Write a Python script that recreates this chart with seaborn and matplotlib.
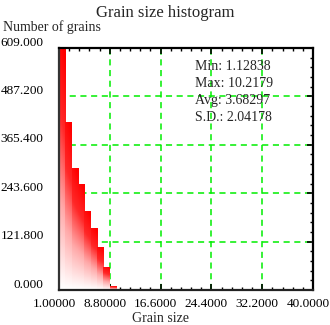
import numpy as np
import pandas as pd
import seaborn as sns
import matplotlib
matplotlib.use("Agg")
import matplotlib.pyplot as plt
from matplotlib.colors import LinearSegmentedColormap
from matplotlib.ticker import FixedLocator, AutoMinorLocator, FuncFormatter
from matplotlib.transforms import ScaledTranslation

# ---- data ----
bin_start = 1.0
bin_width = 0.975
counts = [609, 424, 308, 266, 200, 155, 108, 58, 10, 3]
x_ticks = [1.0, 8.8, 16.6, 24.4, 32.2, 40.0]
y_ticks = [0.0, 121.8, 243.6, 365.4, 487.2, 609.0]
stats_labels = ["Min", "Max", "Avg", "S.D."]
stats_values = ["1.12838", "10.2179", "3.68297", "2.04178"]
title = "Grain size histogram"
xlabel = "Grain size"
ylabel = "Number of grains"

edges = [bin_start + bin_width * i for i in range(len(counts) + 1)]
centers = [(edges[i] + edges[i + 1]) / 2 for i in range(len(counts))]
df = pd.DataFrame({"size": centers, "count": counts})

sns.set_style("white")
plt.rcParams["font.family"] = ["Liberation Serif", "DejaVu Serif"]
plt.rcParams["font.size"] = 9.5

fig = plt.figure(figsize=(3.30, 3.25), dpi=100)
ax = fig.add_axes([59 / 330, 35 / 325, 254 / 330, 242 / 325])

sns.histplot(data=df, x="size", weights="count", bins=edges, ax=ax,
             stat="count", element="bars", fill=True, linewidth=0,
             color="red", alpha=1, zorder=2)

cmap = LinearSegmentedColormap.from_list("rw", ["#ffffff", "#ffa8a8", "#ff2828", "#ff0000"], N=256)
for p in list(ax.patches):
    x0, y0 = p.get_x(), p.get_y()
    w, h = p.get_width(), p.get_height()
    if h <= 0:
        continue
    p.set_facecolor("none")
    v = np.linspace(0, 1, 64)[:, None]
    hz = np.linspace(0.85, 1.0, 16)[None, :]
    grad = np.clip(v * hz * 1.05, 0, 1)
    im = ax.imshow(grad, extent=[x0, x0 + w, y0, y0 + h], origin="lower",
                   cmap=cmap, vmin=0, vmax=1, aspect="auto", zorder=2,
                   interpolation="bilinear")
    im.set_clip_path(p)

ax.set_xlim(x_ticks[0], x_ticks[-1])
ax.set_ylim(y_ticks[0], y_ticks[-1])
ax.set_xlabel("")
ax.set_ylabel("")

ax.xaxis.set_major_locator(FixedLocator(x_ticks))
ax.yaxis.set_major_locator(FixedLocator(y_ticks))
ax.xaxis.set_minor_locator(AutoMinorLocator(5))
ax.yaxis.set_minor_locator(AutoMinorLocator(5))
ax.xaxis.set_major_formatter(FuncFormatter(lambda v, pos: "{:#.6g}".format(v)))
ax.yaxis.set_major_formatter(FuncFormatter(lambda v, pos: "{:.3f}".format(v)))

ax.grid(True, which="major", color="#00ee00", linestyle=(0, (4, 3)), linewidth=1.1, zorder=1)
ax.set_axisbelow(True)

ax.tick_params(axis="x", which="both", direction="in", top=True, bottom=True,
               labelsize=9.5, pad=6, colors="black")
ax.tick_params(axis="x", which="major", length=4, width=1.2)
ax.tick_params(axis="x", which="minor", length=2.5, width=1)
ax.tick_params(axis="y", which="both", direction="in", left=False, right=True,
               labelsize=9.5, pad=11, colors="black")
ax.tick_params(axis="y", which="major", length=4, width=1.2)
ax.tick_params(axis="y", which="minor", length=2.5, width=1)

yoff = ScaledTranslation(0, 7 / 100, fig.dpi_scale_trans)
for lab in ax.get_yticklabels():
    lab.set_transform(lab.get_transform() + yoff)
xoff = ScaledTranslation(-5 / 100, 0, fig.dpi_scale_trans)
for lab in ax.get_xticklabels():
    lab.set_transform(lab.get_transform() + xoff)

for s in ax.spines.values():
    s.set_visible(True)
    s.set_color("black")
    s.set_linewidth(1.6)
ax.spines["left"].set_color("#333333")
ax.spines["bottom"].set_color("#222222")

fig.text(165 / 330, 1 - 13 / 325, title, ha="center", va="center", fontsize=12)
fig.text(3 / 330, 1 - 27 / 325, ylabel, ha="left", va="center", fontsize=10)
fig.text(160 / 330, 1 - 318 / 325, xlabel, ha="center", va="center", fontsize=10)

for i, (lab, val) in enumerate(zip(stats_labels, stats_values)):
    fig.text(195 / 330, 1 - (66 + 17.3 * i) / 325, f"{lab}: {val}",
             ha="left", va="center", fontsize=10)

fig.savefig("out.png", dpi=100)
